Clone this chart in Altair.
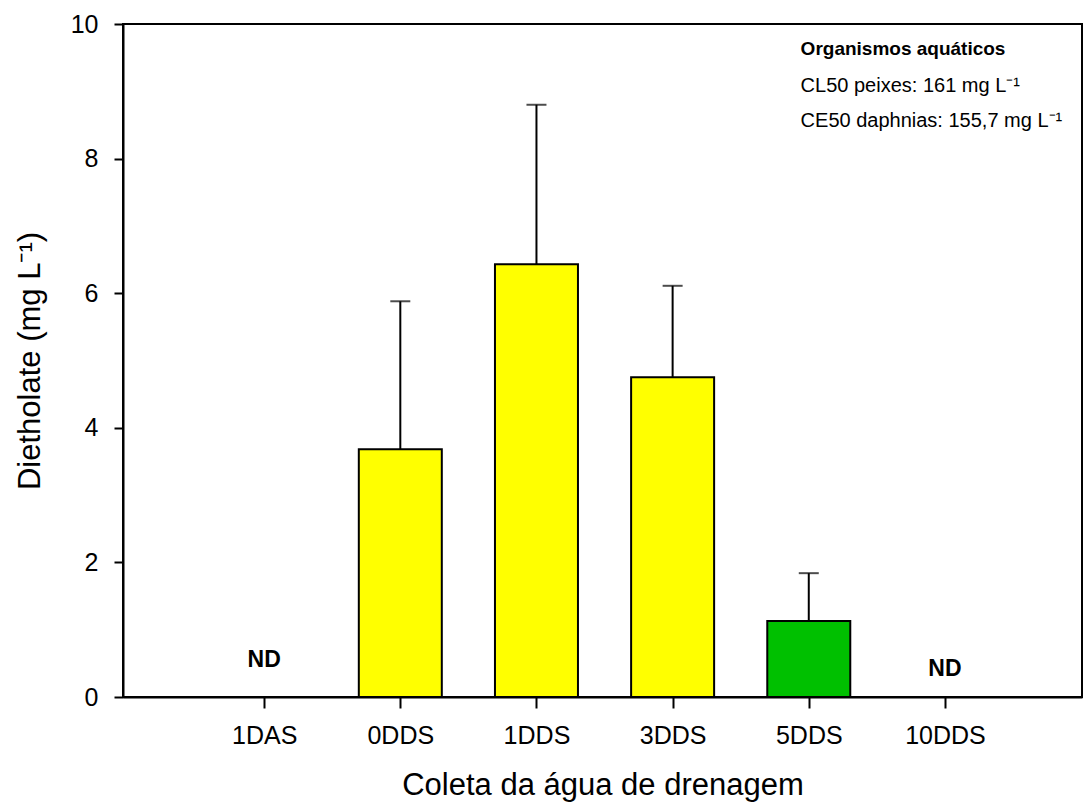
import altair as alt
import pandas as pd

# ---- data ----
categories = ["1DAS", "0DDS", "1DDS", "3DDS", "5DDS", "10DDS"]
means = [None, 3.68, 6.43, 4.75, 1.13, None]
uppers = [None, 5.88, 8.80, 6.11, 1.84, None]
bar_colors = ["#FFFF00", "#FFFF00", "#FFFF00", "#FFFF00", "#00C000", "#FFFF00"]

nd_categories = ["1DAS", "10DDS"]
nd_y = [0.55, 0.42]

note_title = "Organismos aquáticos"
note_title_y = 9.54
note_lines = ["CL50 peixes: 161 mg L\u207b\u00b9", "CE50 daphnias: 155,7 mg L\u207b\u00b9"]
note_y = [8.99, 8.47]
note_x = 4.94

FONT = "Liberation Sans"

positions = list(range(1, len(categories) + 1))
pos_of = dict(zip(categories, positions))

df = pd.DataFrame({"cat": categories, "pos": positions, "mean": means,
                   "upper": uppers, "color": bar_colors}).dropna()
nd_df = pd.DataFrame({"pos": [pos_of[c] for c in nd_categories], "y": nd_y, "t": ["ND"] * len(nd_y)})
note_df = pd.DataFrame({"x": [note_x] * len(note_lines), "y": note_y, "t": note_lines})
note_title_df = pd.DataFrame({"x": [note_x], "y": [note_title_y], "t": [note_title]})

label_expr = "[" + ",".join(f"'{c}'" for c in categories) + "][datum.value - 1]"

xscale = alt.Scale(domain=[0, 6.97], nice=False, zero=False)
yscale = alt.Scale(domain=[0, 10], nice=False)

x_enc = alt.X("pos:Q", scale=xscale,
              axis=alt.Axis(values=positions, labelExpr=label_expr, title="Coleta da água de drenagem",
                            tickSize=11, labelPadding=15, titlePadding=22, grid=False))
y_enc = alt.Y("mean:Q", scale=yscale,
              axis=alt.Axis(values=[0, 2, 4, 6, 8, 10], format="d", title="Dietholate (mg L\u207b\u00b9)",
                            tickSize=9, labelPadding=16, titlePadding=24, grid=False))

err = alt.Chart(df).mark_rule(color="black", strokeWidth=2).encode(
    x=alt.X("pos:Q", scale=xscale), y=alt.Y("mean:Q", scale=yscale), y2="upper:Q")
cap = alt.Chart(df).mark_tick(color="black", thickness=2, size=20, orient="horizontal").encode(
    x=alt.X("pos:Q", scale=xscale), y=alt.Y("upper:Q", scale=yscale))
bars = alt.Chart(df).mark_bar(size=83, stroke="black", strokeWidth=2).encode(
    x=x_enc, y=y_enc, color=alt.Color("color:N", scale=None))
nd = alt.Chart(nd_df).mark_text(font=FONT, fontSize=23, fontWeight="bold", color="black", baseline="middle").encode(
    x=alt.X("pos:Q", scale=xscale), y=alt.Y("y:Q", scale=yscale), text="t:N")
notes = alt.Chart(note_df).mark_text(font=FONT, fontSize=20, color="black", align="left", baseline="alphabetic").encode(
    x=alt.X("x:Q", scale=xscale), y=alt.Y("y:Q", scale=yscale), text="t:N")
note_head = alt.Chart(note_title_df).mark_text(font=FONT, fontSize=19, fontWeight="bold", color="black",
                                               align="left", baseline="alphabetic").encode(
    x=alt.X("x:Q", scale=xscale), y=alt.Y("y:Q", scale=yscale), text="t:N")

chart = alt.layer(bars, err, cap, nd, notes, note_head).properties(
    width=959, height=673,
    autosize=alt.AutoSizeParams(type="none"),
    padding={"left": 123, "top": 24, "right": 3, "bottom": 110},
).configure_view(stroke="black", strokeWidth=2).configure_axis(
    labelFont=FONT, labelFontSize=25, labelColor="black",
    titleFont=FONT, titleFontSize=31, titleColor="black", titleFontWeight="normal",
    domainColor="black", domainWidth=2, tickColor="black", tickWidth=2,
)

chart.save("out.html", embed_options={"renderer": "svg", "actions": False})
